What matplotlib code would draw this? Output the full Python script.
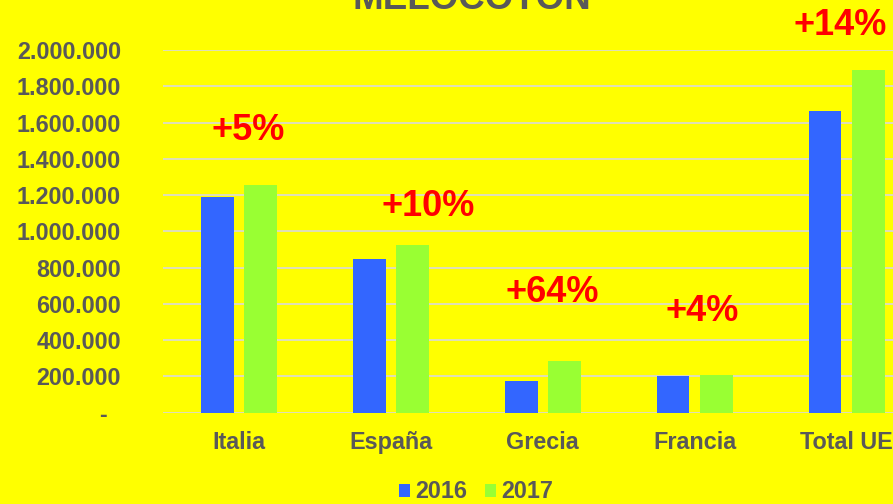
import matplotlib
matplotlib.use("Agg")
import matplotlib.pyplot as plt
import numpy as np
from matplotlib.patches import Patch
from matplotlib.ticker import FuncFormatter

plt.rcParams['font.family'] = ['Liberation Sans', 'DejaVu Sans']
plt.rcParams['font.weight'] = 'bold'

# data
countries = ["Italia", "España", "Grecia", "Francia", "Total UE"]
prod_2016 = [1190000, 845000, 174000, 200000, 1663000]
prod_2017 = [1255000, 924000, 284000, 205000, 1891000]
change_labels = ["+5%", "+10%", "+64%", "+4%", "+14%"]

# where the red change labels sit (data coords)
label_x = [0.06, 1.25, 2.06, 3.05, 3.955]
label_y = [1555000, 1135000, 660000, 560000, 2135000]

BG = '#FFFF00'
BLUE = '#3366FF'
GREEN = '#99FF33'
GREY_TXT = '#595959'

fig = plt.figure(figsize=(8.93, 5.04), dpi=100, facecolor=BG)
ax = fig.add_axes([0.1822, 0.1815, 0.851, 0.7192])
ax.set_facecolor(BG)

x = np.arange(len(countries))
w = 0.217
off = 0.1425
ax.bar(x - off, prod_2016, w, color=BLUE, zorder=3)
ax.bar(x + off, prod_2017, w, color=GREEN, zorder=3)

ax.set_xlim(-0.5, 4.5)
ax.set_ylim(0, 2000000)
ax.set_yticks(np.arange(0, 2000001, 200000))

def fmt(v, pos):
    if v == 0:
        return '-  '
    return f'{int(v):,}'.replace(',', '.')

ax.yaxis.set_major_formatter(FuncFormatter(fmt))
ax.set_xticks(x)
ax.set_xticklabels(countries)
ax.tick_params(axis='y', length=0, pad=30, labelsize=16.8, labelcolor=GREY_TXT)
ax.tick_params(axis='x', length=0, pad=13, labelsize=16.8, labelcolor=GREY_TXT)

ax.grid(axis='y', color='#D9D9D9', linewidth=1.2, zorder=0)
for s in ax.spines.values():
    s.set_visible(False)

for lx, ly, t in zip(label_x, label_y, change_labels):
    ax.text(lx, ly, t, color='#FF0000', fontsize=26, fontweight='bold',
            ha='center', va='center', clip_on=False)

# title is partly cut off at the top, as in the reference
fig.text(471.7 / 893, 1 - 9 / 504, 'MELOCOTÓN', ha='center', va='baseline',
         fontsize=26.5, fontweight='bold', color=GREY_TXT)

handles = [Patch(facecolor=BLUE, label='2016'), Patch(facecolor=GREEN, label='2017')]
leg = fig.legend(handles=handles, loc='center', ncol=2, frameon=False,
                 bbox_to_anchor=(475.7 / 893, 1 - 492 / 504),
                 fontsize=16.8, handlelength=0.5, handleheight=0.5,
                 handletextpad=0.2, columnspacing=0.75, borderaxespad=0)
for t in leg.get_texts():
    t.set_color(GREY_TXT)

fig.savefig('out.png', dpi=100, facecolor=BG)
